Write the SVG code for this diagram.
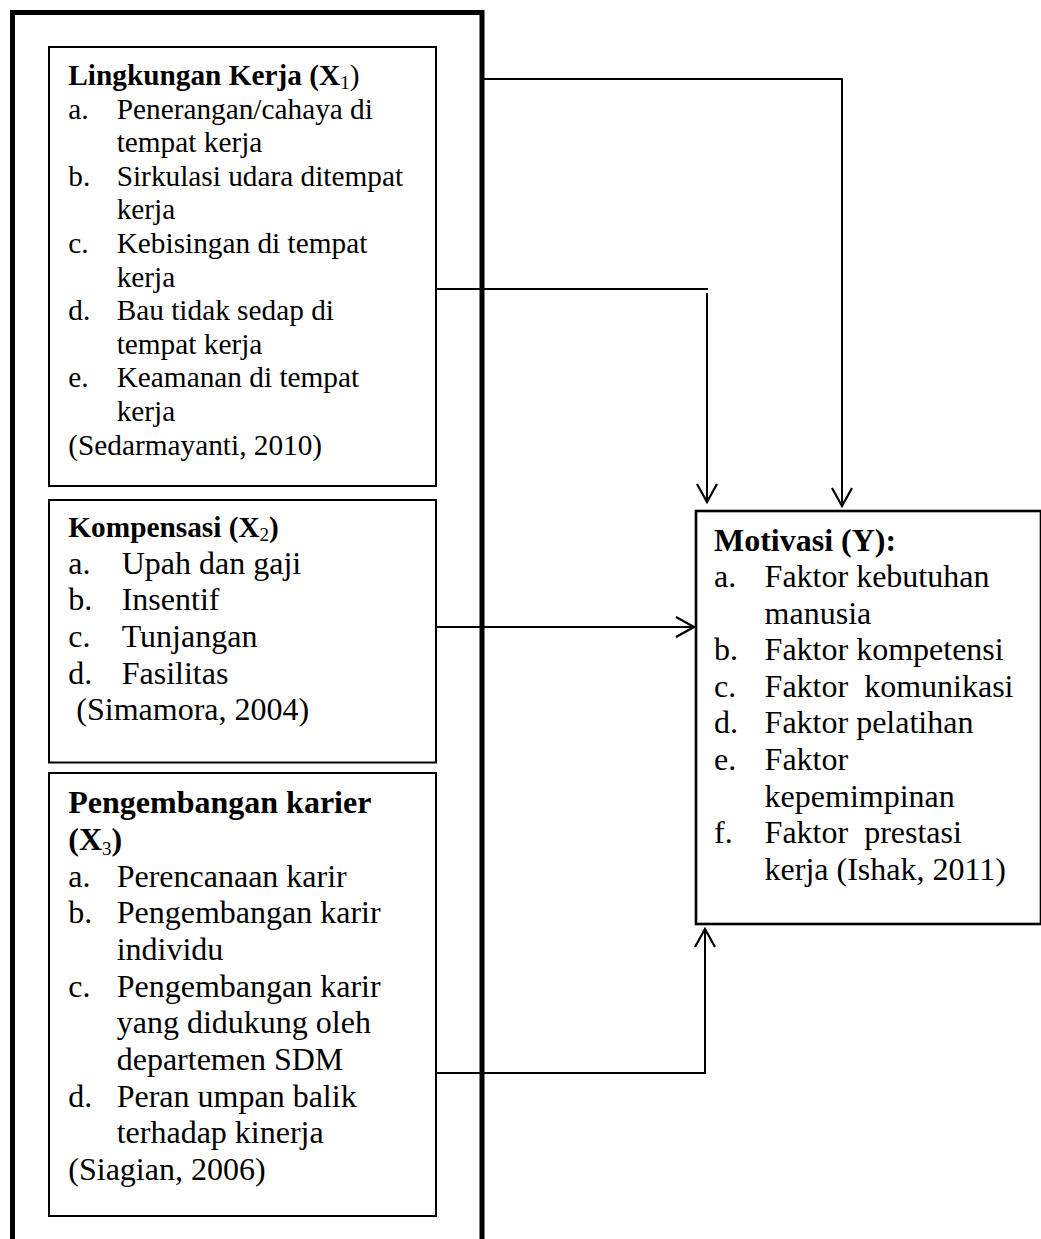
<svg xmlns="http://www.w3.org/2000/svg" width="1041" height="1239" viewBox="0 0 1041 1239">
<style>
.t{font-family:"Liberation Serif","Times New Roman",serif;fill:#000}
.s1{font-size:29.3px}
.s2{font-size:32px}
.b{font-weight:bold}
.box{fill:#fff;stroke:#000;stroke-width:2}
.con{fill:none;stroke:#000;stroke-width:2}
.sub{font-size:19px;font-weight:normal}
.pre{white-space:pre}
</style>
<defs>
<marker id="arr" viewBox="-21 -12 23 24" markerWidth="23" markerHeight="24" refX="0" refY="0" orient="auto" markerUnits="userSpaceOnUse">
<path d="M-18,-10 L0,0 L-18,10" fill="none" stroke="#000" stroke-width="2.2"/>
</marker>
</defs>
<rect width="1041" height="1239" fill="#fff"/>
<g id="outer">
<rect x="12.5" y="12.5" width="469.5" height="1300" fill="none" stroke="#000" stroke-width="5"/>
</g>
<g id="connectors">
<path class="con" d="M482,79 H842 V506" marker-end="url(#arr)"/>
<path class="con" d="M436,289 H708"/>
<path class="con" d="M707,293 V502" marker-end="url(#arr)"/>
<path class="con" d="M436,627 H694" marker-end="url(#arr)"/>
<path class="con" d="M436,1073 H705 V929" marker-end="url(#arr)"/>
</g>
<g id="x1">
<rect class="box" x="49" y="47" width="387" height="439"/>
<text class="t s1 b" x="68.3" y="85">Lingkungan Kerja (X<tspan class="sub" dy="4">1</tspan><tspan dy="-4" font-weight="normal">)</tspan></text>
<g class="t s1">
<text x="68.3" y="118.6">a.</text><text x="116.7" y="118.6">Penerangan/cahaya di</text>
<text x="116.7" y="152.2">tempat kerja</text>
<text x="68.3" y="185.8">b.</text><text x="116.7" y="185.8">Sirkulasi udara ditempat</text>
<text x="116.7" y="219.4">kerja</text>
<text x="68.3" y="253">c.</text><text x="116.7" y="253">Kebisingan di tempat</text>
<text x="116.7" y="286.6">kerja</text>
<text x="68.3" y="320.2">d.</text><text x="116.7" y="320.2">Bau tidak sedap di</text>
<text x="116.7" y="353.8">tempat kerja</text>
<text x="68.3" y="387.4">e.</text><text x="116.7" y="387.4">Keamanan di tempat</text>
<text x="116.7" y="421">kerja</text>
<text x="68.3" y="454.6">(Sedarmayanti, 2010)</text>
</g>
</g>
<g id="x2">
<rect class="box" x="49" y="500" width="387" height="262.5"/>
<text class="t s1 b" x="68.3" y="537">Kompensasi (X<tspan class="sub" dy="3.5">2</tspan><tspan dy="-3.5">)</tspan></text>
<g class="t s2">
<text x="68.3" y="573.5">a.</text><text x="121.7" y="573.5">Upah dan gaji</text>
<text x="68.3" y="610.2">b.</text><text x="121.7" y="610.2">Insentif</text>
<text x="68.3" y="646.9">c.</text><text x="121.7" y="646.9">Tunjangan</text>
<text x="68.3" y="683.6">d.</text><text x="121.7" y="683.6">Fasilitas</text>
<text x="76.3" y="720.3">(Simamora, 2004)</text>
</g>
</g>
<g id="x3">
<rect class="box" x="49" y="773" width="387" height="443"/>
<text class="t s2 b" x="68.3" y="813.3">Pengembangan karier</text>
<text class="t s2 b" x="68.3" y="850">(X<tspan class="sub" font-size="21px" font-weight="bold" dy="5">3</tspan><tspan dy="-5">)</tspan></text>
<g class="t s2">
<text x="68.3" y="886.7">a.</text><text x="116.7" y="886.7">Perencanaan karir</text>
<text x="68.3" y="923.3">b.</text><text x="116.7" y="923.3">Pengembangan karir</text>
<text x="116.7" y="960">individu</text>
<text x="68.3" y="996.7">c.</text><text x="116.7" y="996.7">Pengembangan karir</text>
<text x="116.7" y="1033.3">yang didukung oleh</text>
<text x="116.7" y="1070">departemen SDM</text>
<text x="68.3" y="1106.7">d.</text><text x="116.7" y="1106.7">Peran umpan balik</text>
<text x="116.7" y="1143.3">terhadap kinerja</text>
<text x="68.3" y="1180">(Siagian, 2006)</text>
</g>
</g>
<g id="y">
<rect x="696" y="511" width="345" height="413" fill="#fff" stroke="#000" stroke-width="2.6"/>
<text class="t s2 b" x="714" y="551">Motivasi (Y):</text>
<g class="t s2">
<text x="714" y="587">a.</text><text x="764.6" y="587">Faktor kebutuhan</text>
<text x="764.6" y="623.5">manusia</text>
<text x="714" y="660">b.</text><text x="764.6" y="660">Faktor kompetensi</text>
<text x="714" y="696.7">c.</text><text class="pre" x="764.6" y="696.7">Faktor  komunikasi</text>
<text x="714" y="733.3">d.</text><text x="764.6" y="733.3">Faktor pelatihan</text>
<text x="714" y="770">e.</text><text x="764.6" y="770">Faktor</text>
<text x="764.6" y="806.7">kepemimpinan</text>
<text x="714" y="843.3">f.</text><text class="pre" x="764.6" y="843.3">Faktor  prestasi</text>
<text x="764.6" y="880">kerja (Ishak, 2011)</text>
</g>
</g>
</svg>
